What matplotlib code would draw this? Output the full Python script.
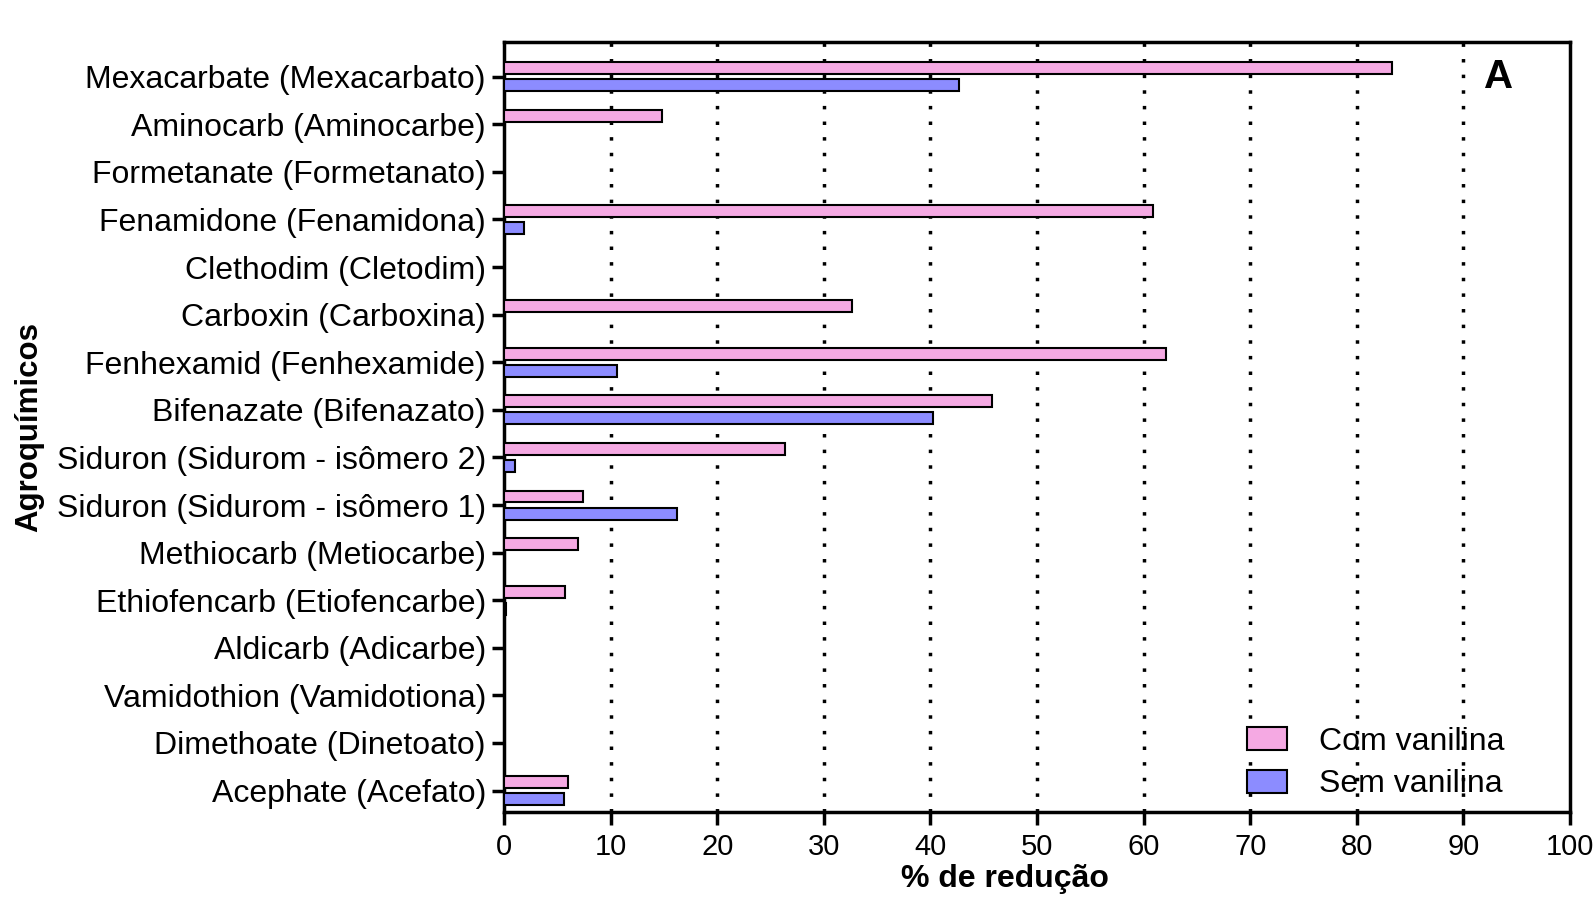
import matplotlib.pyplot as plt
import numpy as np

plt.rcParams['font.family'] = ['Liberation Sans', 'DejaVu Sans']

# Data

agroquimicos = [
    "Mexacarbate (Mexacarbato)",
    "Aminocarb (Aminocarbe)",
    "Formetanate (Formetanato)",
    "Fenamidone (Fenamidona)",
    "Clethodim (Cletodim)",
    "Carboxin (Carboxina)",
    "Fenhexamid (Fenhexamide)",
    "Bifenazate (Bifenazato)",
    "Siduron (Sidurom - isômero 2)",
    "Siduron (Sidurom - isômero 1)",
    "Methiocarb (Metiocarbe)",
    "Ethiofencarb (Etiofencarbe)",
    "Aldicarb (Adicarbe)",
    "Vamidothion (Vamidotiona)",
    "Dimethoate (Dinetoato)",
    "Acephate (Acefato)",
]
com_vanilina = [83.3, 14.8, 0, 60.9, 0, 32.6, 62.1, 45.8, 26.4, 7.4, 6.9, 5.7, 0, 0, 0, 6.0]
sem_vanilina = [42.7, 0, 0, 1.9, 0, 0, 10.6, 40.2, 1.0, 16.2, 0, 0.2, 0, 0, 0, 5.6]

pink = "#f5a9e3"
blue = "#8c8cff"

fig = plt.figure(figsize=(15.94, 9.01), dpi=100)
ax = fig.add_axes([0.3162, 0.0988, 0.6688, 0.8546])

y = np.arange(len(agroquimicos))
h = 0.25
ax.barh(y - 0.18, com_vanilina, height=h, color=pink, edgecolor="black",
        linewidth=1.5, label="Com vanilina", zorder=3)
ax.barh(y + 0.18, sem_vanilina, height=h, color=blue, edgecolor="black",
        linewidth=1.5, label="Sem vanilina", zorder=3)

ax.set_xlim(0, 100)
ax.set_ylim(len(agroquimicos) - 1 + 0.45, -0.73)
ax.set_xticks(range(0, 101, 10))
ax.set_yticks(y)
ax.set_yticklabels(agroquimicos, fontsize=23)
ax.tick_params(axis="x", labelsize=21, width=2.5, length=9, direction="out", pad=6)
ax.tick_params(axis="y", width=2.5, length=9, direction="out", pad=4)

for x in range(10, 100, 10):
    ax.axvline(x, color="black", linestyle=(0, (1, 3.5)), linewidth=2.5, zorder=1)

for s in ax.spines.values():
    s.set_linewidth(2.5)

ax.set_xlabel("% de redução", fontsize=23, fontweight="bold")
ax.xaxis.set_label_coords(0.47, -0.068)
ax.set_ylabel("Agroquímicos", fontsize=22.5, fontweight="bold")
ax.yaxis.set_label_coords(-0.431, 0.5)

ax.text(0.933, 0.979, "A", transform=ax.transAxes, fontsize=29, fontweight="bold",
        ha="center", va="top")

leg = ax.legend(loc="lower right", bbox_to_anchor=(0.965, -0.021), frameon=False,
                fontsize=23, handlelength=1.25, handleheight=0.73, handletextpad=1.0,
                labelspacing=0.4)

fig.savefig("out.png", dpi=100)
